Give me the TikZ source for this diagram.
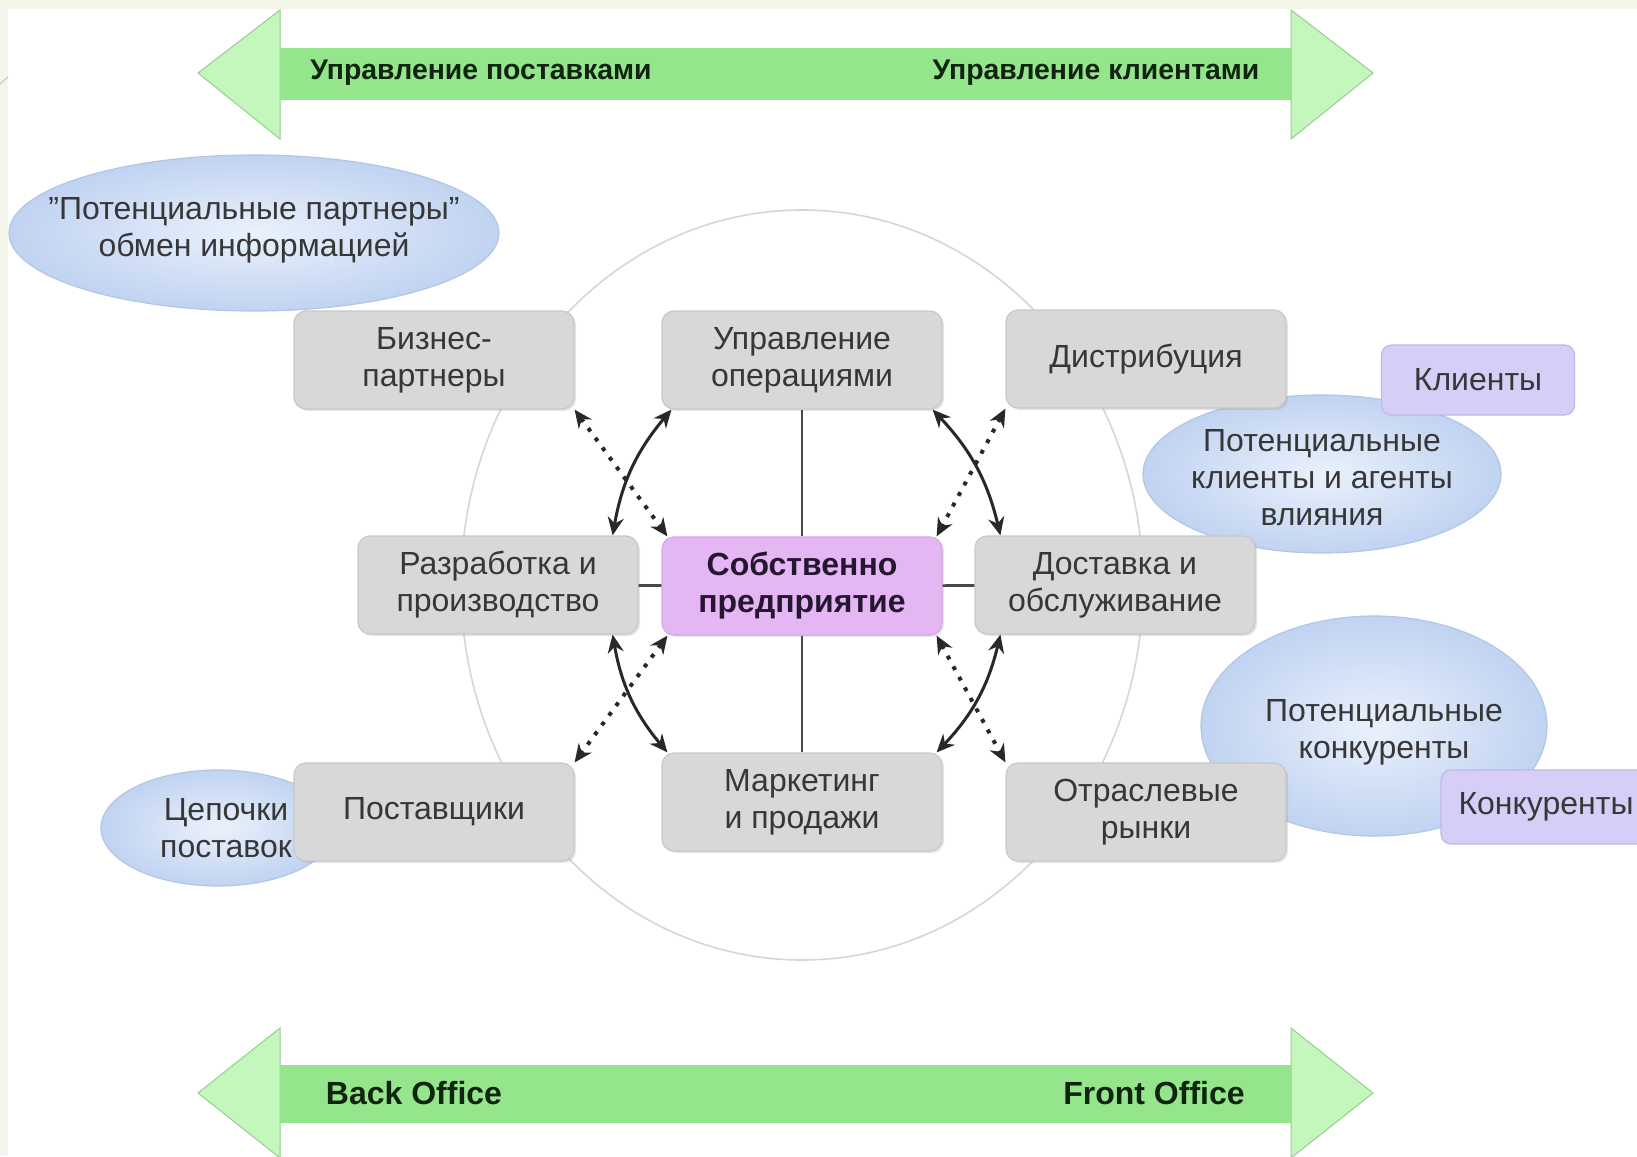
\documentclass[tikz,border=0pt]{standalone}
\usepackage{fontspec}
\setmainfont{Liberation Sans}
\usetikzlibrary{arrows.meta, shadows}
\tikzset{every picture/.style={line width=0.75pt}}

\definecolor{cream}{RGB}{243,245,232}
\definecolor{ringgray}{RGB}{214,214,214}
\definecolor{boxedge}{RGB}{200,200,200}
\definecolor{boxdark}{RGB}{216,216,216}
\definecolor{boxlight}{RGB}{240,240,240}
\definecolor{boxtext}{RGB}{55,55,55}
\definecolor{coreedge}{RGB}{214,166,232}
\definecolor{coredark}{RGB}{228,182,243}
\definecolor{corelight}{RGB}{248,228,253}
\definecolor{coretext}{RGB}{38,22,48}
\definecolor{lilac}{RGB}{214,206,246}
\definecolor{lilacedge}{RGB}{192,184,234}
\definecolor{cloudin}{RGB}{234,241,252}
\definecolor{cloudout}{RGB}{192,211,241}
\definecolor{cloudedge}{RGB}{178,198,230}
\definecolor{bandgreen}{RGB}{150,240,140}
\definecolor{bandlight}{RGB}{196,247,188}
\definecolor{bandedge}{RGB}{150,205,145}
\definecolor{bandtext}{RGB}{16,36,16}
\definecolor{linkgray}{RGB}{40,40,40}

\tikzset{
    unit/.style={rectangle, rounded corners=6pt, draw=boxedge, line width=0.6pt,
        top color=boxdark, middle color=boxlight, bottom color=boxdark,
        minimum width=140pt, minimum height=49pt, align=center, text=boxtext,
        font=\fontsize{16}{18.5}\selectfont,
        drop shadow={opacity=0.2, shadow xshift=1pt, shadow yshift=-1pt}},
    coreunit/.style={unit, draw=coreedge, top color=coredark, middle color=corelight,
        bottom color=coredark, text=coretext, font=\fontsize{16}{18.5}\selectfont\bfseries},
    lilacunit/.style={rectangle, rounded corners=5pt, draw=lilacedge, line width=0.6pt,
        fill=lilac, minimum height=35pt, text=boxtext,
        font=\fontsize{16}{18.5}\selectfont},
    cloud/.style={draw=cloudedge, line width=0.6pt, inner color=cloudin, outer color=cloudout},
    cloudtext/.style={align=center, text=boxtext, font=\fontsize{16}{18.5}\selectfont},
    bandhead/.style={draw=bandedge, line width=0.5pt, fill=bandlight},
    band/.style={top color=bandgreen!90!gray, middle color=bandgreen!80!white, bottom color=bandgreen!90!gray},
    bandtitle/.style={text=bandtext, font=\fontsize{14.2}{16}\selectfont\bfseries},
    officetitle/.style={text=bandtext, font=\fontsize{16}{18}\selectfont\bfseries},
    ring/.style={draw=ringgray, line width=0.8pt},
    spoke/.style={draw=linkgray!85, line width=1.3pt},
    swing/.style={draw=linkgray, line width=1.5pt, {Stealth[length=9pt,width=8pt]}-{Stealth[length=9pt,width=8pt]}},
    dotlink/.style={draw=linkgray, line width=2pt, dash pattern=on 2pt off 4pt, {Stealth[length=9pt,width=8pt]}-{Stealth[length=9pt,width=8pt]}}
}

\begin{document}
\begin{tikzpicture}[x=0.5pt,y=0.5pt,yscale=-1,xscale=1]
    \useasboundingbox (0,0) rectangle (1637,1156);
    \fill[white] (0,0) rectangle (1637,1156);
    \fill[cream] (0,0) rectangle (1637,9);
    \fill[cream] (0,0) rectangle (8,1156);
    \draw[gray!45, line width=0.5pt] (0,84) -- (8,77);

    \draw[bandhead] (198,73) -- (280,10) -- (280,139) -- cycle;
    \draw[bandhead] (1373,73) -- (1291,10) -- (1291,139) -- cycle;
    \fill[band] (280,49) rectangle (1291,100);
    \node[bandtitle] (supplyband) at (481,73) {Управление поставками};
    \node[bandtitle] (clientband) at (1096,73) {Управление клиентами};

    \draw[bandhead] (198,1093) -- (280,1028) -- (280,1158) -- cycle;
    \draw[bandhead] (1373,1093) -- (1291,1028) -- (1291,1158) -- cycle;
    \fill[band] (280,1065) rectangle (1291,1122);
    \node[officetitle] (backoffice) at (414,1093) {Back Office};
    \node[officetitle] (frontoffice) at (1154,1093) {Front Office};

    \draw[ring] (802,585) ellipse [x radius=341, y radius=375];

    \path[cloud] (254,233) ellipse [x radius=245, y radius=78];
    \node[cloudtext] (partnercloud) at (254,230) {"Потенциальные партнеры"\\обмен информацией};
    \path[cloud] (1322,474) ellipse [x radius=179, y radius=79];
    \node[cloudtext] (clientcloud) at (1322,478) {Потенциальные\\клиенты и агенты\\влияния};
    \path[cloud] (1374,726) ellipse [x radius=173, y radius=110];
    \node[cloudtext] (rivalcloud) at (1384,732) {Потенциальные\\конкуренты};
    \path[cloud] (218,828) ellipse [x radius=117, y radius=58];
    \node[cloudtext] (chaincloud) at (226,828) {Цепочки\\поставок};

    \node[lilacunit, minimum width=96.5pt] (clients) at (1478,380) {Клиенты};
    \node[lilacunit, minimum width=105pt, minimum height=37pt] (rivals) at (1546,807) {Конкуренты};

    \node[unit] (biz) at (434,360) {Бизнес-\\партнеры};
    \node[unit] (ops) at (802,360) {Управление\\операциями};
    \node[unit] (dist) at (1146,359) {Дистрибуция};
    \node[unit] (dev) at (498,585) {Разработка и\\производство};
    \node[coreunit] (core) at (802,586) {Собственно\\предприятие};
    \node[unit] (serv) at (1115,585) {Доставка и\\обслуживание};
    \node[unit] (supp) at (434,812) {Поставщики};
    \node[unit] (mkt) at (802,802) {Маркетинг\\и продажи};
    \node[unit] (mark) at (1146,812) {Отраслевые\\рынки};

    \draw[spoke] (ops) -- (core);
    \draw[spoke] (core) -- (mkt);
    \draw[spoke] (dev) -- (core);
    \draw[spoke] (core) -- (serv);

    \draw[swing] ([xshift=5pt]ops.south west) to[bend left=15] ([xshift=-13pt]dev.north east);
    \draw[swing] ([xshift=-5pt]ops.south east) to[bend right=15] ([xshift=13pt]serv.north west);
    \draw[swing] ([xshift=-13pt]dev.south east) to[bend left=15] ([xshift=3pt]mkt.north west);
    \draw[swing] ([xshift=13pt]serv.south west) to[bend right=15] ([xshift=-3pt]mkt.north east);

    \draw[dotlink] (biz.south east) -- ([xshift=3pt]core.north west);
    \draw[dotlink] (dist.south west) -- ([xshift=-3pt]core.north east);
    \draw[dotlink] ([xshift=3pt]core.south west) -- (supp.north east);
    \draw[dotlink] ([xshift=-3pt]core.south east) -- (mark.north west);
\end{tikzpicture}
\end{document}
